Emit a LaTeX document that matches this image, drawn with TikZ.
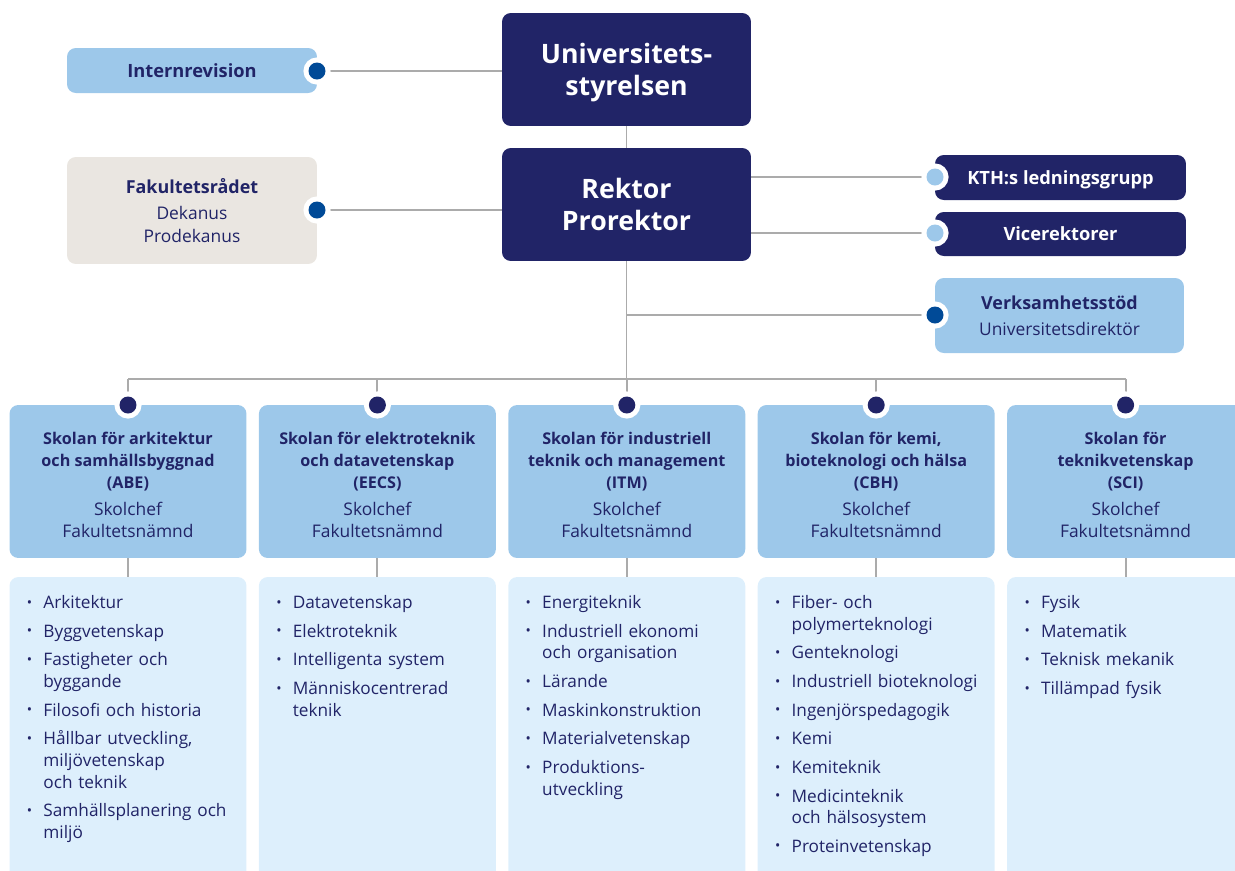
\documentclass[tikz,border=0pt]{standalone}
\usepackage{fontspec}
\setmainfont{Open Sans}
\usetikzlibrary{backgrounds}

\definecolor{kthnavy}{HTML}{212467}
\definecolor{kthblue}{HTML}{004A97}
\definecolor{kthsky}{HTML}{9DC8EA}
\definecolor{kthpale}{HTML}{DDEFFC}
\definecolor{kthsand}{HTML}{EAE6E1}
\definecolor{kthline}{HTML}{ABABAB}

% bullet list used in the department boxes
\newenvironment{unitlist}{%
  \begin{list}{\raisebox{0.15ex}{\footnotesize\textbullet}}{%
    \setlength{\leftmargin}{10.2pt}\setlength{\labelsep}{6.4pt}%
    \setlength{\labelwidth}{8pt}\setlength{\itemsep}{4pt}%
    \setlength{\topsep}{0pt}\setlength{\partopsep}{0pt}%
    \setlength{\parsep}{0pt}\setlength{\itemindent}{0pt}}\raggedright}%
  {\end{list}}

% regular lines under a bold heading
\newcommand{\reg}{\mdseries\fontsize{9.9}{12.5}\selectfont}

\def\px{0.02cm}

\tikzset{
  board/.style={rectangle, rounded corners=5pt, inner sep=0pt, align=center},
  topbox/.style={board, fill=kthnavy, text=white, text depth=0pt,
    font=\bfseries\fontsize{15.2}{18.2}\selectfont,
    minimum width=4.98cm, minimum height=2.26cm},
  sidebox/.style={board, fill=#1, text=kthnavy,
    font=\fontsize{9.8}{15}\selectfont, minimum width=5cm},
  sidehead/.style={font=\bfseries\fontsize{10.4}{15}\selectfont},
  school/.style={board, fill=kthsky, text=kthnavy,
    font=\bfseries\fontsize{9.2}{12.5}\selectfont,
    minimum width=4.74cm, minimum height=3.06cm},
  unitbox/.style={board, fill=kthpale, minimum width=4.74cm, minimum height=6.46cm},
  unittext/.style={anchor=north west, inner sep=0pt, text=kthnavy,
    text width=4.6cm, align=left, font=\fontsize{9.8}{12.3}\selectfont},
  knob/.style={circle, inner sep=0pt, minimum size=0.34cm, fill=#1,
    preaction={draw=white, fill=white, line width=0.2cm}},
  link/.style={draw=kthline, line width=1.1pt}
}

\begin{document}
\begin{tikzpicture}[x=\px, y=-\px]
\useasboundingbox (0,0) rectangle (1235,870);
\clip (0,0) rectangle (1235,870);

% board and management
\node[topbox] (styrelse) at (626.5,69.5) {Universitets-\\styrelsen};
\node[topbox] (rektor) at (626.5,204.5) {Rektor\\Prorektor};

\node[sidebox=kthsky, sidehead, minimum height=0.9cm] (revision) at (192,70.5) {Internrevision};
\node[sidebox=kthsand, minimum height=2.14cm] (fakultet) at (192,210.5)
  {\bfseries\fontsize{10.2}{15}\selectfont Fakultetsrådet\\\reg Dekanus\\[-2pt]\reg Prodekanus};

\node[sidebox=kthnavy, sidehead, text=white, text depth=0pt, minimum width=5.02cm, minimum height=0.9cm]
  (ledning) at (1060.5,177.5) {KTH:s ledningsgrupp};
\node[sidebox=kthnavy, sidehead, text=white, minimum width=5.02cm, minimum height=0.88cm]
  (vice) at (1060.5,234) {Vicerektorer};
\node[sidebox=kthsky, minimum width=4.98cm, minimum height=1.5cm]
  (stod) at (1059.5,315.5) {\bfseries\fontsize{10.2}{15}\selectfont Verksamhetsstöd\\\reg Universitetsdirektör};

\node[knob=kthblue] (prevision) at (317,71) {};
\node[knob=kthblue] (pfakultet) at (317,210) {};
\node[knob=kthsky] (pledning) at (935,177) {};
\node[knob=kthsky] (pvice) at (935,233) {};
\node[knob=kthblue] (pstod) at (935,315) {};

\coordinate (bus) at (626.5,379);

% schools
\newcommand{\schoolnode}[3]{%
  \node[school] (s#1) at (#2,481.5)
    {\rule{0pt}{11pt}#3\\[2.5pt]\reg Skolchef\\\reg Fakultetsnämnd};
  \node[knob=kthnavy] (p#1) at (#2,405) {};
  \node[unitbox] (u#1) at (#2,738.5) {};
}
\schoolnode{1}{128}{Skolan för arkitektur\\och samhällsbyggnad\\(ABE)}
\schoolnode{2}{377.4}{Skolan för elektroteknik\\och datavetenskap\\(EECS)}
\schoolnode{3}{626.8}{Skolan för industriell\\teknik och management\\(ITM)}
\schoolnode{4}{876.2}{Skolan för kemi,\\bioteknologi och hälsa\\(CBH)}
\schoolnode{5}{1125.6}{Skolan för\\teknikvetenskap\\(SCI)}

% departments
\node[unittext] (t1) at ([shift={(16,10)}]u1.north west) {\begin{unitlist}
  \item Arkitektur
  \item Byggvetenskap
  \item Fastigheter och\\byggande
  \item Filosofi och historia
  \item Hållbar utveckling,\\miljövetenskap\\och teknik
  \item Samhällsplanering och\\miljö
\end{unitlist}};
\node[unittext] (t2) at ([shift={(16,10)}]u2.north west) {\begin{unitlist}
  \item Datavetenskap
  \item Elektroteknik
  \item Intelligenta system
  \item Människocentrerad\\teknik
\end{unitlist}};
\node[unittext] (t3) at ([shift={(16,10)}]u3.north west) {\begin{unitlist}
  \item Energiteknik
  \item Industriell ekonomi\\och organisation
  \item Lärande
  \item Maskinkonstruktion
  \item Materialvetenskap
  \item Produktions-\\utveckling
\end{unitlist}};
\node[unittext] (t4) at ([shift={(16,10)}]u4.north west) {\begin{unitlist}
  \item Fiber- och\\polymerteknologi
  \item Genteknologi
  \item Industriell bioteknologi
  \item Ingenjörspedagogik
  \item Kemi
  \item Kemiteknik
  \item Medicinteknik\\och hälsosystem
  \item Proteinvetenskap
\end{unitlist}};
\node[unittext] (t5) at ([shift={(16,10)}]u5.north west) {\begin{unitlist}
  \item Fysik
  \item Matematik
  \item Teknisk mekanik
  \item Tillämpad fysik
\end{unitlist}};

% connectors
\begin{scope}[on background layer]
  \draw[link] (prevision) -- (prevision -| styrelse.west);
  \draw[link] (styrelse.south) -- (rektor.north);
  \draw[link] (pfakultet) -- (pfakultet -| rektor.west);
  \draw[link] (rektor.east |- pledning) -- (pledning);
  \draw[link] (rektor.east |- pvice) -- (pvice);
  \draw[link] (rektor.south) -- (bus);
  \draw[link] (rektor.south |- pstod) -- (pstod);
  \draw[link] (p1 |- bus) -- (p5 |- bus);
  \foreach \i in {1,...,5} {
    \draw[link] (p\i |- bus) -- (p\i);
    \draw[link] (s\i.south) -- (u\i.north);
  }
\end{scope}
\end{tikzpicture}
\end{document}
